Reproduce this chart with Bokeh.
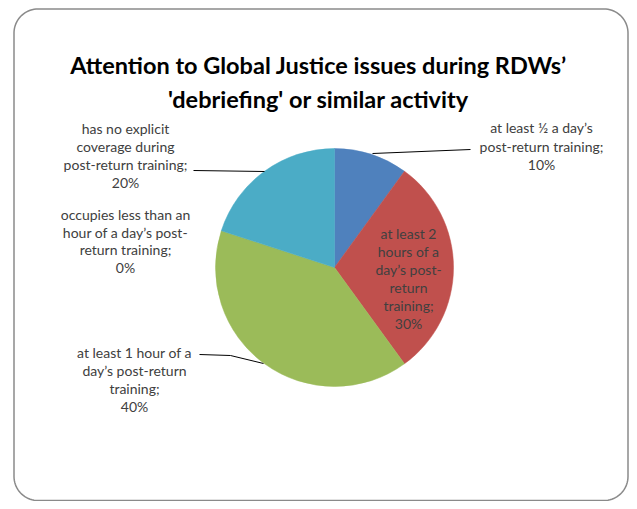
import numpy as np
from bokeh.plotting import figure
from bokeh.models import Range1d
from bokeh.core.properties import value
from bokeh.embed import file_html
from bokeh.resources import INLINE

# ---- data ----
title_lines = ["Attention to Global Justice issues during RDWs\u2019",
               "'debriefing' or similar activity"]
categories = ["at least \u00bd a day\u2019s\npost-return training",
              "at least 2\nhours of a\nday\u2019s post-\nreturn\ntraining",
              "at least 1 hour of a\nday\u2019s post-return\ntraining",
              "occupies less than an\nhour of a day\u2019s post-\nreturn training",
              "has no explicit\ncoverage during\npost-return training"]
values = [10, 30, 40, 0, 20]
colors = ["#4F81BD", "#C0504D", "#9BBB59", "#8064A2", "#4BACC6"]

# ---- layout (image pixel coords) ----
W, H = 629, 501

p = figure(width=W, height=H, output_backend="svg", toolbar_location=None,
           x_range=Range1d(0, W), y_range=Range1d(0, H),
           min_border=0, outline_line_color=None)
p.axis.visible = False
p.grid.visible = False
p.background_fill_color = "white"

def yd(y):
    return H - y  # image y -> data y

# rounded frame
x0, x1, y0, y1, r = 13.5, 627.5, 8.5, 500.0, 24
pts = []
for cx_, cy_, a0 in [(x1 - r, y0 + r, -90), (x1 - r, y1 - r, 0), (x0 + r, y1 - r, 90), (x0 + r, y0 + r, 180)]:
    a = np.radians(np.linspace(a0, a0 + 90, 20))
    pts += [(cx_ + r * np.cos(t), cy_ + r * np.sin(t)) for t in a]
pts.append(pts[0])
p.line([q[0] for q in pts], [yd(q[1]) for q in pts], line_color="#8a8a8a", line_width=1.5)

# pie
cx, cy, R = 334, 267, 119
tot = float(sum(values))
cum = np.concatenate([[0], np.cumsum(values)]) / tot
starts = np.pi / 2 - 2 * np.pi * cum[:-1]
ends = np.pi / 2 - 2 * np.pi * cum[1:]
for i, v in enumerate(values):
    if v <= 0:
        continue
    p.wedge(x=cx, y=yd(cy), radius=R, start_angle=starts[i], end_angle=ends[i],
            direction="clock", fill_color=colors[i], line_color=colors[i], line_width=0.5)

# title
for i, t in enumerate(title_lines):
    p.text(x=[318], y=[yd([64, 98][i])], text=[t], text_font=value("Lato"),
           text_font_style="bold", text_font_size="23.5px", text_color="#000000",
           text_align="center", text_baseline="middle")

# labels
label_pos = [(541, 127, 18.5), (408, 233, 18), (134, 352, 18), (125, 214, 17.5), (125, 128, 18)]
for i, cat in enumerate(categories):
    lines = (cat + ";\n" + f"{values[i]}%").split("\n")
    lx, ly, sp = label_pos[i]
    p.text(x=[lx] * len(lines), y=[yd(ly + k * sp) for k in range(len(lines))], text=lines,
           text_font=value("Lato"), text_font_size="14px", text_color="#404040",
           text_align="center", text_baseline="middle")

# leader lines
leaders = [[(372, 153), (470, 149)],
           [(199, 354), (230, 355), (263, 363)],
           [(193, 170), (264, 171)]]
for ln in leaders:
    p.line([q[0] for q in ln], [yd(q[1]) for q in ln], line_color="#000000", line_width=1)

open("out.html", "w").write(file_html(p, INLINE))
